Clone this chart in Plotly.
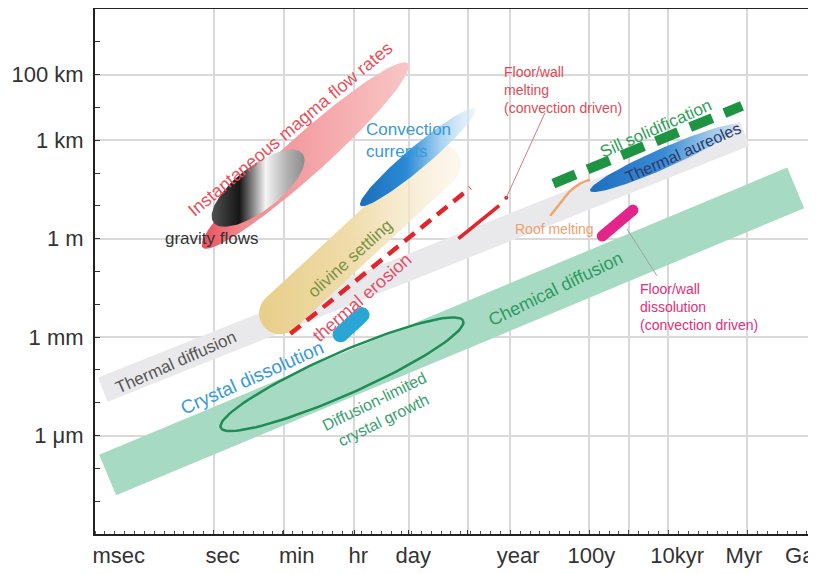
import numpy as np
import plotly.graph_objects as go

# time axis: log10(seconds), length axis: log10(metres)
grid_t = [0, 1.778, 3.556, 4.937, 6.42, 7.499, 9.499, 10.499, 11.499, 13.499]
time_labels = ["msec", "sec", "min", "hr", "day", "year", "100y", "10kyr", "Myr", "Ga"]
time_label_pos = [-2.40, 0.23, 2.10, 3.66, 5.05, 7.70, 9.55, 11.72, 13.41, 14.82]
len_vals = [5, 3, 0, -3, -6]
len_labels = ["100 km", "1 km", "1 m", "1 mm", "1 μm"]

# process regions: (log t, log L) start and end
chem_diff = [(-2.68, -7.20), (14.72, 1.55)]
therm_diff = [(-2.80, -4.60), (13.43, 3.20)]
olivine = [(1.29, -2.71), (6.11, 2.68)]
crystal_growth = [(0.18, -5.76), (6.31, -2.50)]
crystal_diss = [(3.06, -3.08), (3.89, -2.16)]
therm_erosion = [(1.94, -2.90), (6.49, 1.55)]
wall_melting = [(6.19, 0.0), (7.22, 1.01)]
wall_melting_leader = [(7.40, 1.25), (8.38, 3.84)]
convection = [(3.71, 1.01), (6.62, 3.96)]
magma_flow = [(-0.28, -0.27), (4.92, 5.34)]
gravity = [(0.0, 0.49), (2.25, 2.59)]
sill = [(8.59, 1.68), (13.36, 4.05)]
aureoles = [(9.52, 1.46), (13.26, 3.45)]
roof_t = [8.51, 8.76, 9.02, 9.27, 9.52]
roof_L = [0.70, 1.07, 1.46, 1.68, 1.80]
wall_diss = [(9.72, -0.03), (10.71, 0.98)]
wall_diss_leader = [(10.45, 0.30), (11.21, -1.13)]

X_RANGE = [-3, 15.03]
Y_RANGE = [-9, 7]
# page body has an 8px margin, so the figure is 8px smaller and shifted
ML, MR, MT, MB = 87, 8, 1, 40
W, H = 808, 566
SX = (W - ML - MR) / (X_RANGE[1] - X_RANGE[0])
SY = (H - MT - MB) / (Y_RANGE[1] - Y_RANGE[0])


def outline(seg, half, kind="ellipse", n=120):
    # shape built in screen space so widths are in pixels
    (x0, y0), (x1, y1) = seg
    x0, y0, x1, y1 = x0 * SX, y0 * SY, x1 * SX, y1 * SY
    dx, dy = x1 - x0, y1 - y0
    L = np.hypot(dx, dy)
    u = np.array([dx, dy]) / L
    v = np.array([-u[1], u[0]])
    c = np.array([(x0 + x1) / 2, (y0 + y1) / 2])
    if kind == "ellipse":
        t = np.linspace(0, 2 * np.pi, n)
        pts = c[:, None] + np.outer(u, (L / 2) * np.cos(t)) + np.outer(v, half * np.sin(t))
    elif kind == "capsule":
        e1 = c + u * (L / 2 - half)
        e0 = c - u * (L / 2 - half)
        t = np.linspace(-np.pi / 2, np.pi / 2, n // 2)
        a = e1[:, None] + np.outer(u, half * np.cos(t)) + np.outer(v, half * np.sin(t))
        b = e0[:, None] - np.outer(u, half * np.cos(t)) - np.outer(v, half * np.sin(t))
        pts = np.hstack([a, b, a[:, :1]])
    else:
        p0 = np.array([x0, y0]); p1 = np.array([x1, y1])
        pts = np.array([p0 + v * half, p1 + v * half, p1 - v * half, p0 - v * half, p0 + v * half]).T
    return pts[0] / SX, pts[1] / SY


fig = go.Figure()


def blob(seg, half, kind="ellipse", color=None, grad=None):
    xs, ys = outline(seg, half, kind)
    kw = dict(x=xs, y=ys, mode="lines", fill="toself", line=dict(width=0),
              hoverinfo="skip", showlegend=False)
    if grad:
        kw["fillgradient"] = dict(type="horizontal", colorscale=grad)
    else:
        kw["fillcolor"] = color
    fig.add_trace(go.Scatter(**kw))


def seg_line(seg, color, width, dash="solid"):
    fig.add_trace(go.Scatter(x=[seg[0][0], seg[1][0]], y=[seg[0][1], seg[1][1]],
                             mode="lines", line=dict(color=color, width=width, dash=dash),
                             hoverinfo="skip", showlegend=False))


blob(chem_diff, 22, "rect", color="#a6dac3")
blob(therm_diff, 13, "rect", color="#e9e9eb")
blob(olivine, 21, "capsule", grad=[[0, "#e8ce8a"], [0.45, "#f0dcaa"], [1, "rgba(250,240,222,0.5)"]])

xs, ys = outline(crystal_growth, 21, "ellipse")
fig.add_trace(go.Scatter(x=xs, y=ys, mode="lines", line=dict(color="#1d8c55", width=2.5),
                         hoverinfo="skip", showlegend=False))
blob(crystal_diss, 8, "capsule", color="#29a6d6")

blob(magma_flow, 20, "ellipse", grad=[[0, "#e94f5c"], [0.2, "#f08a90"], [1, "#f9c6c6"]])
blob(gravity, 22, "ellipse", grad=[[0, "#505050"], [0.3, "#161616"], [0.58, "#f4f4f4"],
                                    [0.8, "#b4b4b4"], [1, "#8c8c8c"]])
blob(convection, 11, "ellipse", grad=[[0, "#1b6fb8"], [0.4, "#2a8ad6"], [0.7, "#a9d3f2"],
                                       [1, "rgba(220,238,250,0.5)"]])

seg_line(therm_erosion, "#e3242b", 4.5, "13px,8px")
seg_line(wall_melting, "#e3242b", 3.5)
fig.add_trace(go.Scatter(x=[wall_melting_leader[0][0]], y=[wall_melting_leader[0][1]], mode="markers",
                         marker=dict(color="#e3242b", size=4), hoverinfo="skip", showlegend=False))
seg_line(wall_melting_leader, "#d07a80", 1)

fig.add_trace(go.Scatter(x=roof_t, y=roof_L, mode="lines", line=dict(color="#f2a36f", width=2.5, shape="spline"),
                         hoverinfo="skip", showlegend=False))
blob(aureoles, 10, "ellipse", grad=[[0, "#1e6ec0"], [0.5, "#3a8bd4"], [0.8, "#9cc6ea"], [1, "#cfe0ef"]])
seg_line(sill, "#1e9442", 10, "24px,13px")
blob(wall_diss, 5.5, "capsule", color="#e3248a")
seg_line(wall_diss_leader, "#a0a0a0", 1)

FONT = "Liberation Sans, Arial, sans-serif"
notes = [
    (1.94, 3.35, "Instantaneous magma flow rates", "#e8505c", 18, -40, "center"),
    (-0.03, 0.0, "gravity flows", "#333333", 17, 0, "center"),
    (3.79, 2.99, "Convection<br>currents", "#3a9ad6", 17, 0, "left"),
    (7.30, 4.54, "Floor/wall<br>melting<br>(convection driven)", "#e04a56", 14, 0, "left"),
    (11.19, 3.35, "Sill solidification", "#2f9e55", 17, -24, "center"),
    (11.87, 2.62, "Thermal aureoles", "#2a3a6a", 16, -24, "center"),
    (8.61, 0.30, "Roof melting", "#f0a070", 14, 0, "center"),
    (8.64, -1.52, "Chemical diffusion", "#2e9a60", 18, -26, "center"),
    (10.73, -2.07, "Floor/wall<br>dissolution<br>(convection driven)", "#e0307a", 14, 0, "left"),
    (3.46, -0.61, "olivine settling", "#7a9244", 17, -42, "center"),
    (3.74, -1.80, "thermal erosion", "#e05068", 18, -41, "center"),
    (-0.96, -3.78, "Thermal diffusion", "#555555", 17, -24, "center"),
    (0.98, -4.24, "Crystal dissolution", "#3a9ad8", 19, -24, "center"),
    (4.17, -5.24, "Diffusion-limited<br>crystal growth", "#3aa070", 16, -26, "center"),
]
for x, y, txt, col, size, ang, al in notes:
    fig.add_annotation(x=x, y=y, text=txt, showarrow=False, textangle=ang,
                       xanchor="left" if al == "left" else "center", align=al,
                       font=dict(family=FONT, size=size, color=col))

fig.update_layout(
    width=W, height=H, margin=dict(l=ML, r=MR, t=MT, b=MB, autoexpand=False),
    paper_bgcolor="white", plot_bgcolor="white", showlegend=False,
    font=dict(family=FONT, size=22, color="#333333"),
    xaxis=dict(range=X_RANGE, tickmode="array", tickvals=grid_t, showticklabels=False,
               showgrid=True, gridcolor="#d9d9d9", gridwidth=1.5, zeroline=False,
               ticks="inside", ticklen=4, tickcolor="#333", automargin=False,
               showline=True, mirror=True, linecolor="#222", linewidth=2),
    xaxis2=dict(range=X_RANGE, overlaying="x", side="bottom", anchor="y",
                tickmode="array", tickvals=time_label_pos, ticktext=time_labels,
                showgrid=False, zeroline=False, ticks="", ticklabelstandoff=6, automargin=False,
                ticklabeloverflow="allow",
                minor=dict(tickmode="linear", tick0=0, dtick=0.25, ticks="inside",
                           ticklen=3, tickcolor="#555")),
    yaxis=dict(range=Y_RANGE, tickmode="array", tickvals=len_vals, ticktext=len_labels,
               showgrid=True, gridcolor="#d9d9d9", gridwidth=1.5, zeroline=False,
               ticks="inside", ticklen=5, tickcolor="#333", ticklabelstandoff=5, automargin=False,
               minor=dict(tickmode="linear", tick0=0, dtick=1, ticks="inside",
                          ticklen=5, tickcolor="#333"),
               showline=True, mirror=True, linecolor="#222", linewidth=2),
)
# dummy trace so xaxis2 is drawn
fig.add_trace(go.Scatter(x=[X_RANGE[0]], y=[Y_RANGE[0]], xaxis="x2", mode="markers",
                         marker=dict(opacity=0), hoverinfo="skip", showlegend=False))

fig.write_html("out.html")
